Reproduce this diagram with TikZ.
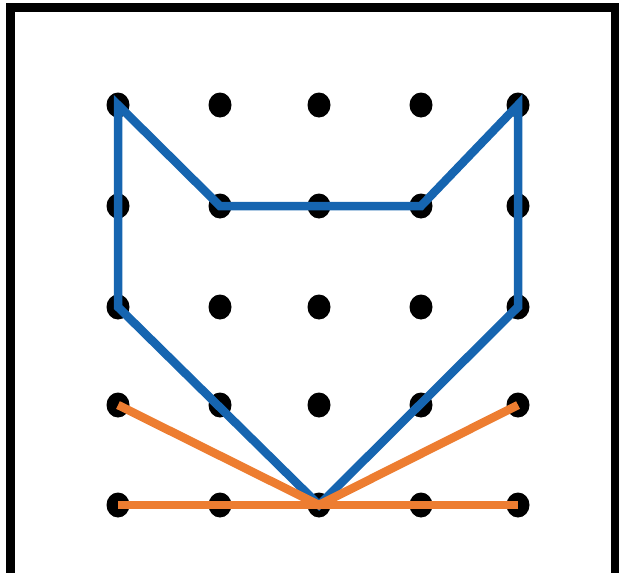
\documentclass[tikz,border=0pt]{standalone}
\usetikzlibrary{shapes.geometric}
\definecolor{catblue}{RGB}{22,101,176}
\definecolor{catorange}{RGB}{237,125,49}
\begin{document}
\begin{tikzpicture}[x=1pt, y=-1pt,
  peg/.style={ellipse, fill=black, inner sep=0pt, minimum width=23pt, minimum height=25pt},
  band/.style={line width=8.5pt}]
\useasboundingbox (0,0) rectangle (619,573);
% frame, open at the bottom
\draw[line width=9pt] (10.5,573) -- (10.5,7.5) -- (615,7.5) -- (615,573);
% 5x5 pegs
\foreach \x [count=\i] in {118,220,319,421,518}
  \foreach \y [count=\j] in {105,206,307,405,505}
    \node[peg] (p\i\j) at (\x,\y) {};
% cat head
\draw[band, catblue] (p11.center) -- (p22.center) -- (p42.center) -- (p51.center)
  -- (p53.center) -- (p35.center) -- (p13.center) -- cycle;
% whiskers
\draw[band, catorange] (p14.center) -- (p35.center) -- (p54.center);
\draw[band, catorange] (p15.center) -- (p55.center);
\end{tikzpicture}
\end{document}
